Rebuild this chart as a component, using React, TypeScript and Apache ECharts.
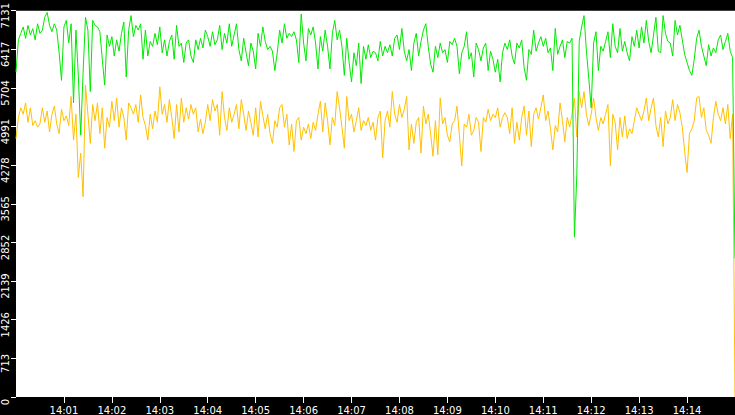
import React, { useEffect, useRef } from "react";
import * as echarts from "echarts";

// one sample every 3 seconds, starting at 14:00:00
const sampleStepSeconds = 3;

const xTickSeconds = [60, 120, 180, 240, 300, 360, 420, 480, 540, 600, 660, 720, 780, 840];
const xTickLabels = ["14:01", "14:02", "14:03", "14:04", "14:05", "14:06", "14:07", "14:08", "14:09", "14:10", "14:11", "14:12", "14:13", "14:14"];

const yMax = 7131;
const yInterval = 713.1;

const greenValues = [
  6000, 6594, 6713, 6832, 6620, 6860, 6683, 6800, 6594, 6890, 6713, 6773, 7010, 7100, 6860, 6743, 6890, 6773, 6355, 5845,
  6832, 6952, 6534, 6890, 5429, 6773, 5937, 4832, 5996, 7010, 6773, 5638, 6952, 6860, 6832, 6743, 6235, 5757, 6683, 6474,
  6653, 6295, 6594, 6384, 6713, 6922, 5907, 6773, 7041, 6653, 6860, 6773, 6890, 6235, 6773,
  6295, 6564, 6474, 6713, 6504, 6832, 6355, 6594, 6295, 6564, 6683, 6235, 6860, 6474, 6534, 6175, 6534, 6594, 6295, 6175,
  6594, 6414, 6623, 6444, 6773, 6653, 6474, 6743, 6504, 6594, 6860, 6414, 6713, 6534, 6890, 6474, 6683, 6890, 6414, 6205,
  6623, 6355, 6116, 6534, 6384, 6056, 6713, 6474, 6832, 6564,
  6414, 6474, 6384, 6026, 6355, 6773, 6534, 6890, 6623, 6713, 6653, 6743, 6594, 6175, 7071, 6534, 6205, 6803, 6683, 6832,
  6534, 6056, 6653, 6384, 6773, 6474, 6056, 6713, 6952, 6594, 6773, 6474, 5937, 6623, 6175, 5817, 6355, 6116, 6534, 5787,
  6474, 6235, 6504, 6265, 6384, 6355, 6205, 6564, 6295, 6474,
  6355, 6504, 6295, 6623, 6683, 6414, 6803, 6384, 6205, 6414, 6026, 6534, 6713, 6295, 6564, 6773, 6892, 6474, 6146, 5996,
  6474, 6265, 6534, 6355, 6414, 6175, 6564, 6504, 6623, 6474, 5966, 6355, 6474, 6743, 6235, 6355, 5907, 6534, 6414, 6205,
  6444, 6534, 6026, 6384, 6235, 5996, 6235, 5817, 6355, 6534,
  6414, 6594, 6295, 6146, 6534, 6444, 6594, 6086, 5847, 6414, 6325, 6773, 6384, 6534, 6653, 6474, 6623, 6355, 6444, 6026,
  6803, 6325, 6474, 6594, 6265, 6564, 6534, 6623, 2951, 4100, 6564, 6832, 7041, 6384, 5877, 5339, 6534, 6743, 6026, 6474,
  6384, 6564, 6743, 6265, 6892, 6474, 6355, 6803, 6384, 6564,
  6355, 6205, 6653, 6474, 6773, 6444, 6832, 6534, 6952, 6564, 6355, 6683, 7010, 6384, 6355, 7041, 6713, 6564, 6534, 6295,
  6952, 6683, 6862, 6594, 6325, 6175, 6026, 5937, 6235, 6623, 6773, 6474, 6295, 6116, 6504, 6295, 6444, 6355, 6594, 6683,
  6414, 6564, 6713, 6384, 6265, 2560,
];

const yellowValues = [
  4772, 5160, 5339, 5220, 5429, 5071, 5339, 5011, 5101, 4981, 5041, 5339, 5071, 5280, 4892, 5220, 5369, 5041, 4862, 5310,
  5101, 5190, 5011, 5548, 4742, 5220, 4055, 4503, 3697, 5757, 5220, 4682, 5399, 5101, 5429, 4862, 5339, 4593, 5160, 4981,
  5459, 5101, 5519, 4981, 5339, 5160, 4742, 5429, 5339, 5220, 5399, 5071, 5578, 5160, 5011,
  4742, 5220, 4951, 5280, 5071, 5727, 5220, 5399, 5071, 5489, 5160, 4772, 5399, 4892, 5519, 5071, 5339, 5130, 5399, 5220,
  5339, 4892, 5130, 4862, 5071, 5399, 5101, 5489, 5280, 5399, 4832, 5638, 5160, 4921, 5339, 5071, 5220, 5399, 4951, 5489,
  5220, 4921, 5280, 5071, 4832, 5339, 4802, 5459, 5190, 4951,
  5220, 4862, 4682, 5101, 4981, 5339, 5399, 4981, 5220, 4653, 5041, 4533, 5101, 5160, 4742, 4981, 4862, 5041, 4772, 5071,
  4921, 5220, 5459, 4892, 5429, 5101, 4653, 5160, 5011, 5638, 5339, 4981, 4593, 5548, 5101, 5220, 4892, 5101, 5339, 4921,
  5101, 5011, 5160, 4921, 5071, 4742, 5160, 5280, 4414, 5101,
  5280, 4981, 5638, 5220, 5071, 5399, 5160, 5310, 5548, 4563, 5041, 4682, 5071, 5160, 4503, 5369, 5041, 5220, 4862, 4444,
  5101, 4474, 5519, 5041, 5160, 4832, 4712, 5041, 5101, 5369, 4832, 4264, 5041, 4981, 5220, 4832, 4921, 5160, 5071, 4533,
  5160, 5071, 5310, 5101, 5220, 5160, 5339, 4981, 5160, 5250,
  5160, 4862, 5339, 4682, 5071, 4742, 5160, 5369, 4832, 5280, 4623, 5220, 5339, 5130, 5339, 5578, 5101, 5280, 4951, 4563,
  5011, 4892, 5429, 5101, 4712, 5160, 4981, 5220, 5519, 4802, 5638, 5339, 5638, 5220, 5011, 5220, 5519, 5160, 4921, 5160,
  5041, 5220, 5399, 4264, 5220, 5071, 4563, 5160, 4802, 5190,
  4772, 4951, 4862, 5101, 5339, 5220, 5101, 5280, 5519, 5101, 5339, 5519, 5011, 4802, 5160, 4623, 5280, 5041, 5160, 5489,
  5101, 5399, 5250, 4981, 4533, 4145, 4862, 4951, 5101, 5519, 5548, 5160, 5339, 4921, 4832, 4682, 5160, 5459, 5220, 5101,
  5339, 5041, 5399, 4772, 5220, 0,
];

const toPoints = (values: number[]) => values.map((v, i) => [i * sampleStepSeconds, v]);

export default function App() {
  const ref = useRef<HTMLDivElement>(null);

  useEffect(() => {
    const chart = echarts.init(ref.current as HTMLDivElement, null, { renderer: "svg" });
    const font = "DejaVu Sans";
    chart.setOption({
      animation: false,
      backgroundColor: "#000",
      grid: {
        left: 16,
        right: 0,
        top: 0,
        bottom: 17,
        show: true,
        backgroundColor: "#fff",
        borderWidth: 0,
        containLabel: false,
      },
      xAxis: {
        type: "value",
        min: 0,
        max: 900,
        interval: 60,
        axisLine: { show: false },
        splitLine: { show: false },
        axisTick: {
          show: true,
          length: 6,
          lineStyle: { color: "#fff", width: 1 },
          customValues: xTickSeconds,
        },
        axisLabel: {
          color: "#fff",
          fontSize: 10,
          fontFamily: font,
          margin: 8,
          customValues: xTickSeconds,
          formatter: (v: number) => {
            const idx = xTickSeconds.indexOf(Math.round(v));
            return idx >= 0 ? xTickLabels[idx] : "";
          },
        },
      },
      yAxis: {
        type: "value",
        min: 0,
        max: yMax,
        interval: yInterval,
        axisLine: { show: false },
        splitLine: { show: false },
        axisTick: { show: true, length: 5, lineStyle: { color: "#fff", width: 1 } },
        axisLabel: {
          color: "#fff",
          fontSize: 10,
          fontFamily: font,
          rotate: 90,
          margin: 6,
          padding: [0, 10, 0, 0],
          showMinLabel: true,
          showMaxLabel: true,
          formatter: (v: number) => String(Math.floor(v + 1e-6)),
        },
      },
      series: [
        {
          type: "line",
          data: toPoints(yellowValues),
          showSymbol: false,
          symbol: "none",
          lineStyle: { color: "#ffc000", width: 1 },
          itemStyle: { color: "#ffc000" },
          z: 2,
        },
        {
          type: "line",
          data: toPoints(greenValues),
          showSymbol: false,
          symbol: "none",
          lineStyle: { color: "#00e800", width: 1 },
          itemStyle: { color: "#00e800" },
          z: 3,
        },
      ],
    });
    return () => chart.dispose();
  }, []);

  return <div ref={ref} style={{ position: "fixed", left: 0, top: 0, width: 735, height: 415 }} />;
}
